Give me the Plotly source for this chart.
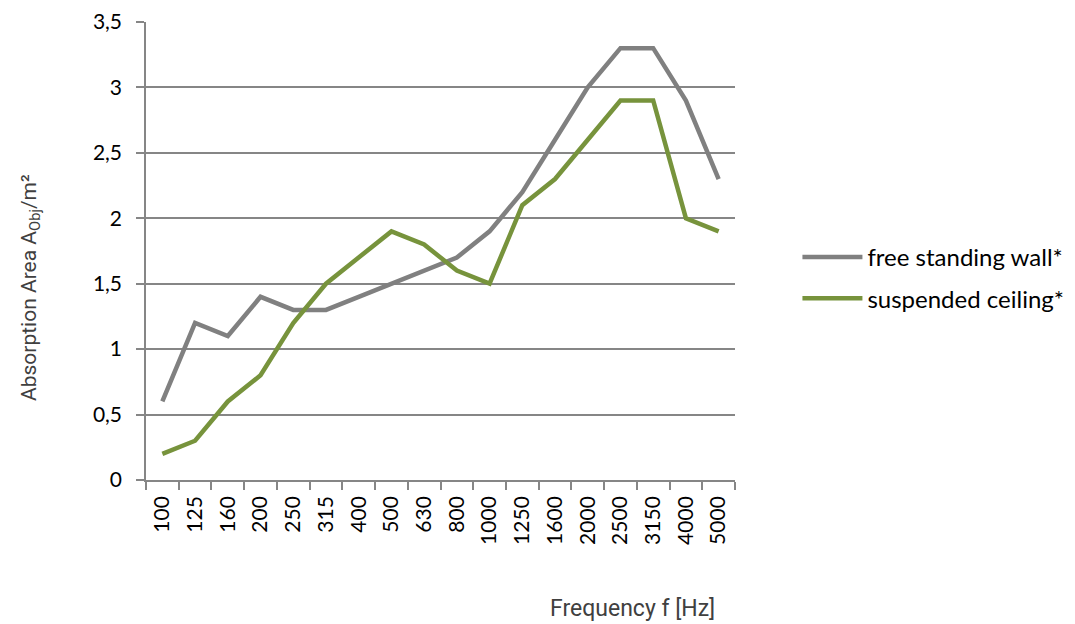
import plotly.graph_objects as go

freqs = ["100", "125", "160", "200", "250", "315", "400", "500", "630", "800",
         "1000", "1250", "1600", "2000", "2500", "3150", "4000", "5000"]
wall = [0.6, 1.2, 1.1, 1.4, 1.3, 1.3, 1.4, 1.5, 1.6, 1.7, 1.9, 2.2, 2.6, 3.0, 3.3, 3.3, 2.9, 2.3]
ceiling = [0.2, 0.3, 0.6, 0.8, 1.2, 1.5, 1.7, 1.9, 1.8, 1.6, 1.5, 2.1, 2.3, 2.6, 2.9, 2.9, 2.0, 1.9]

tick_font = dict(family="Lato, 'Open Sans', sans-serif", size=21, color="#000000")
ytitle_font = dict(family="'Liberation Sans Narrow', 'Roboto', sans-serif", size=21, color="#404040")
xtitle_font = dict(family="'Liberation Sans Narrow', 'Roboto', sans-serif", size=23, color="#404040")

fig = go.Figure()
fig.add_trace(go.Scatter(x=freqs, y=wall, mode="lines", name="free standing wall*",
                         legendgroup="a", line=dict(color="#808080", width=4.5)))
fig.add_trace(go.Scatter(x=freqs, y=ceiling, mode="lines", name="suspended ceiling*",
                         legendgroup="b", line=dict(color="#77933C", width=4.5)))

# page body has an 8px margin; compensate so the plot area lands where the reference has it
fig.update_layout(
    width=1067, height=616,
    margin=dict(l=138, r=340, t=14, b=144, autoexpand=False),
    paper_bgcolor="white", plot_bgcolor="white",
    separators=",.",
    showlegend=True,
    legend=dict(x=1.106, y=0.441, xanchor="left", yanchor="middle",
                font=dict(family="Lato, 'Open Sans', sans-serif", size=24, color="#000000"),
                tracegroupgap=7, itemwidth=60, bgcolor="rgba(0,0,0,0)"),
    xaxis=dict(type="category", range=[-0.5, len(freqs) - 0.5],
               tickson="boundaries", ticks="outside", ticklen=8,
               tickcolor="#868686", tickwidth=1.5, tickangle=-90,
               showline=True, linecolor="#868686", linewidth=1.5,
               showgrid=False, tickfont=tick_font, ticklabelstandoff=6,
               fixedrange=True, automargin=False),
    yaxis=dict(range=[0, 3.5], dtick=0.5, ticks="outside", ticklen=8,
               tickcolor="#868686", tickwidth=1.5,
               showline=True, linecolor="#868686", linewidth=1.5,
               showgrid=True, gridcolor="#868686", gridwidth=1.5,
               zeroline=False, tickfont=tick_font, ticklabelstandoff=10, automargin=False),
    annotations=[
        dict(text="Absorption Area A<sub>Obj</sub>/m²", xref="paper", yref="paper",
             x=(30 - 146) / 589, y=(480 - 288) / 458, xanchor="center", yanchor="middle",
             textangle=-90, showarrow=False, font=ytitle_font),
        dict(text="Frequency f [Hz]", xref="paper", yref="paper",
             x=(632 - 146) / 589, y=(480 - 608) / 458, xanchor="center", yanchor="middle",
             showarrow=False, font=xtitle_font),
    ],
)

fig.write_html("out.html")
